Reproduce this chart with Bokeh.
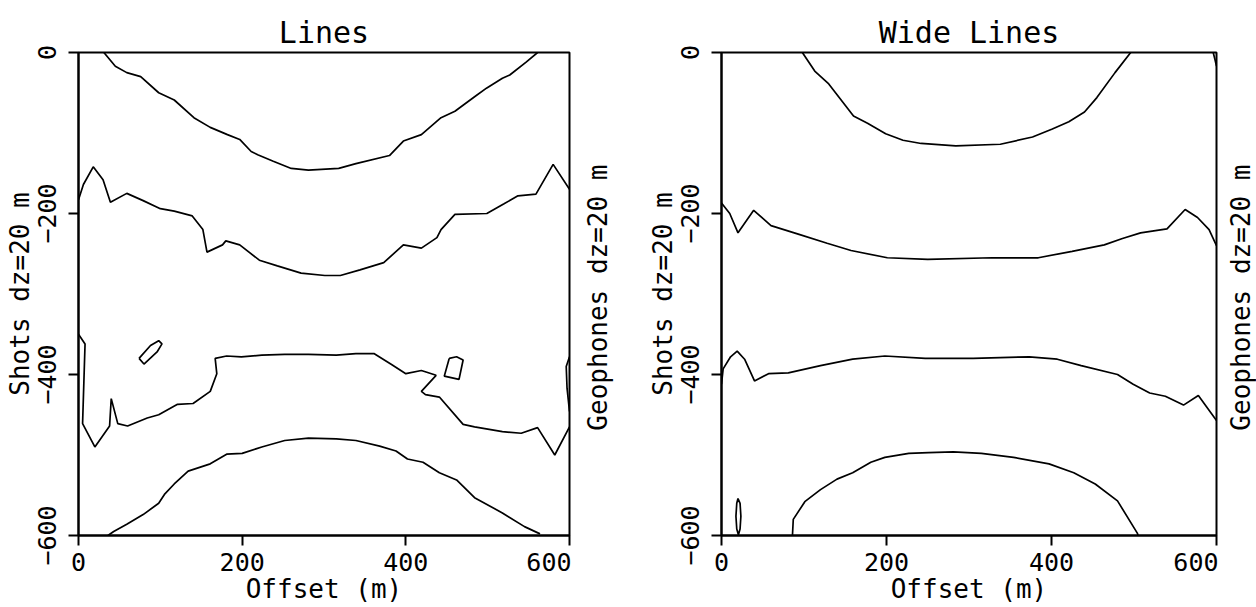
import math
from bokeh.plotting import figure
from bokeh.layouts import row
from bokeh.models import FixedTicker, Range1d
from bokeh.core.properties import value
from bokeh.embed import file_html
from bokeh.resources import INLINE

# ---------------- data (offset in m, depth value) ----------------
x_ticks = [0, 200, 400, 600]
y_ticks = [0, -200, -400, -600]

# Left panel "Lines"
L1_x = [31, 45, 59, 76, 98, 117, 141, 161, 182, 197, 211, 219, 238, 260, 281, 318, 339, 380, 397, 419, 443, 460, 484, 499, 518, 527, 547, 561]
L1_y = [0, -17, -25, -30, -50, -59, -81, -93, -102, -108, -123, -127, -135, -144, -146, -144, -138, -128, -110, -102, -81, -73, -55, -44, -32, -28, -12, 0]

L2_x = [0, 6, 18, 30, 39, 59, 79, 100, 117, 139, 152, 157, 176, 180, 197, 221, 243, 272, 301, 320, 344, 373, 397, 419, 438, 443, 460, 499, 520, 537, 559, 580, 600]
L2_y = [-183, -164, -142, -158, -186, -175, -184, -194, -197, -203, -220, -248, -239, -234, -239, -258, -265, -274, -277, -277, -270, -261, -239, -243, -230, -220, -201, -200, -188, -178, -176, -139, -170]

L3_x = [0, 8, 5, 20, 38, 40, 48, 60, 84, 98, 121, 140, 161, 169, 167, 181, 199, 224, 252, 281, 315, 339, 361, 383, 400, 419, 437, 419, 424, 441, 470, 484, 518, 541, 561, 582, 600]
L3_y = [-350, -362, -461, -490, -464, -430, -461, -464, -454, -450, -437, -436, -421, -399, -380, -377, -378, -376, -375, -375, -376, -374, -374, -388, -399, -395, -401, -421, -425, -428, -462, -465, -471, -473, -466, -500, -465]

L4_x = [36, 43, 59, 79, 98, 105, 117, 134, 161, 181, 200, 224, 252, 281, 315, 339, 368, 388, 402, 421, 441, 462, 484, 518, 545, 564]
L4_y = [-600, -595, -586, -574, -560, -549, -536, -520, -511, -499, -498, -490, -482, -479, -480, -482, -489, -495, -505, -509, -522, -531, -553, -572, -589, -598]

L_isle1_x = [74, 88, 98, 102, 96, 80, 74]
L_isle1_y = [-380, -364, -358, -362, -372, -387, -380]
L_isle2_x = [453, 462, 470, 465, 447, 453]
L_isle2_y = [-380, -378, -382, -406, -402, -380]
L_edge_x = [600, 596, 597, 600]
L_edge_y = [-378, -390, -417, -446]

# Right panel "Wide Lines"
W1_x = [98, 113, 130, 160, 177, 199, 220, 242, 284, 338, 377, 401, 421, 440, 455, 477, 496]
W1_y = [0, -23, -39, -79, -88, -101, -109, -113, -116, -114, -105, -95, -86, -74, -56, -25, 0]

W2_x = [0, 10, 20, 39, 60, 94, 128, 157, 201, 250, 328, 384, 425, 464, 486, 508, 540, 562, 577, 591, 600]
W2_y = [-187, -200, -224, -196, -215, -226, -237, -246, -255, -257, -255, -255, -247, -239, -231, -224, -219, -195, -205, -220, -240]

W3_x = [0, 2, 11, 19, 28, 40, 57, 81, 120, 159, 198, 247, 305, 373, 407, 436, 480, 499, 519, 538, 560, 578, 600]
W3_y = [-412, -393, -378, -371, -381, -408, -399, -398, -389, -381, -377, -380, -380, -378, -381, -389, -400, -412, -423, -427, -438, -426, -457]

W4_x = [86, 87, 101, 120, 140, 159, 181, 198, 227, 251, 281, 315, 354, 397, 427, 453, 480, 504, 505]
W4_y = [-600, -580, -558, -543, -530, -522, -509, -503, -498, -497, -496, -498, -503, -511, -522, -536, -557, -597, -600]

W_isle_x = [20, 22.5, 23.5, 22.5, 20.5, 18.5, 17.5, 18.5, 20]
W_isle_y = [-554, -560, -576, -592, -599, -592, -576, -560, -554]
W_edge_x = [596, 598, 600]
W_edge_y = [0, -8, -17]

titles = ["Lines", "Wide Lines"]
x_label = "Offset (m)"
shots_label = "Shots dz=20 m"
geo_label = "Geophones dz=20 m"

FONT = "DejaVu Sans Mono"
H = 607
TOP = 52
BOTTOM = 72


def make_panel(title, width, bl, xs_list, ys_list):
    p = figure(width=width, height=H, output_backend="svg", toolbar_location=None,
               x_range=Range1d(0, 600), y_range=Range1d(-600, 0),
               min_border_left=bl, min_border_right=2, min_border_top=TOP, min_border_bottom=BOTTOM,
               x_axis_label=x_label, y_axis_label=shots_label)
    p.title.text = title
    p.title.align = "center"
    p.title.text_font = FONT
    p.title.text_font_size = "30px"
    p.title.text_font_style = "normal"
    p.title.text_color = "black"
    p.title.standoff = 6
    p.grid.visible = False
    p.outline_line_color = "black"
    p.outline_line_width = 2
    p.outline_line_alpha = 1
    p.background_fill_color = "white"
    p.border_fill_color = "white"

    for ax, ticks in ((p.xaxis[0], x_ticks), (p.yaxis[0], y_ticks)):
        ax.ticker = FixedTicker(ticks=ticks)
        ax.axis_line_width = 2
        ax.axis_line_color = "black"
        ax.major_tick_line_width = 2
        ax.major_tick_line_color = "black"
        ax.major_tick_out = 10
        ax.major_tick_in = 0
        ax.minor_tick_line_color = None
        ax.major_label_text_font = FONT
        ax.major_label_text_font_size = "25px"
        ax.major_label_text_color = "black"
        ax.axis_label_text_font = FONT
        ax.axis_label_text_font_size = "26px"
        ax.axis_label_text_font_style = "normal"
        ax.axis_label_text_color = "black"
        ax.axis_label_standoff = 0
    p.xaxis[0].major_label_standoff = 7
    p.yaxis[0].major_label_standoff = 13
    p.yaxis[0].major_label_orientation = "vertical"

    p.multi_line(xs=xs_list, ys=ys_list, line_color="black", line_width=1.7)
    return p


def make_side_label(width, cx):
    # narrow strip holding the right-hand (geophone) axis title, reading bottom-to-top
    g = figure(width=width, height=H, output_backend="svg", toolbar_location=None,
               x_range=Range1d(0, width), y_range=Range1d(0, H),
               x_axis_location=None, y_axis_location=None, min_border=0)
    g.grid.visible = False
    g.outline_line_color = None
    g.background_fill_color = "white"
    g.border_fill_color = "white"
    g.text(x=[cx], y=[H - 308], text=[geo_label], angle=math.pi / 2,
           text_align="center", text_baseline="middle",
           text_font=value(FONT), text_font_size="26px", text_color="black")
    return g


p1 = make_panel(titles[0], 571, 78,
                [L1_x, L2_x, L3_x, L4_x, L_isle1_x, L_isle2_x, L_edge_x],
                [L1_y, L2_y, L3_y, L4_y, L_isle1_y, L_isle2_y, L_edge_y])
g1 = make_side_label(54, 26)
p2 = make_panel(titles[1], 593, 96,
                [W1_x, W2_x, W3_x, W4_x, W_isle_x, W_edge_x],
                [W1_y, W2_y, W3_y, W4_y, W_isle_y, W_edge_y])
g2 = make_side_label(38, 22)

layout = row(p1, g1, p2, g2)
open("out.html", "w").write(file_html(layout, INLINE))
